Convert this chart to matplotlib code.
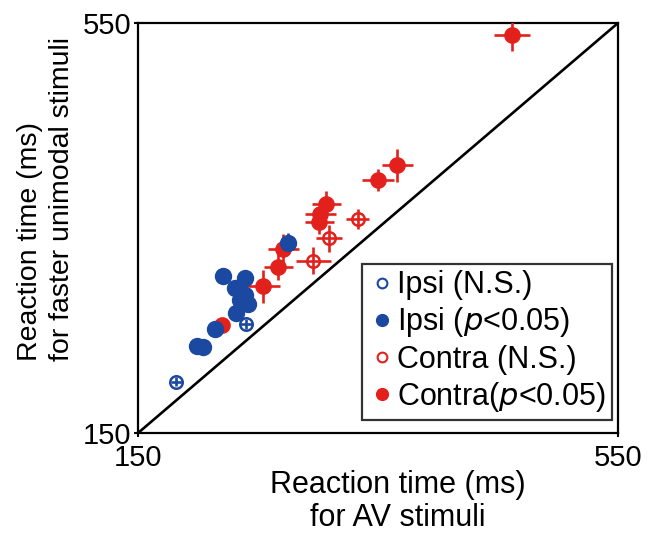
import matplotlib
matplotlib.use("Agg")
import matplotlib.pyplot as plt
from matplotlib.lines import Line2D

plt.rcParams['font.family'] = ['Liberation Sans', 'DejaVu Sans']

BLUE = '#1b48a0'
RED = '#e3211c'

# Ipsi, not significant
ipsi_ns_x = [182, 240]
ipsi_ns_y = [200, 256]
ipsi_ns_ex = [4.5, 5]
ipsi_ns_ey = [4.5, 5]

# Ipsi, p<0.05
ipsi_sig_x = [221, 239, 231, 239, 235, 242, 232, 214, 199, 204, 275]
ipsi_sig_y = [303, 301, 291, 285, 280, 276, 267, 251, 235, 234, 335]
ipsi_sig_ex = [4, 4, 4, 4, 4, 4, 4, 4, 4, 4, 5]
ipsi_sig_ey = [4, 4, 4, 4, 4, 4, 4, 4, 4, 4, 10]

# Contra, not significant
contra_ns_x = [296, 309, 333]
contra_ns_y = [318, 340, 359]
contra_ns_ex = [14.5, 10.7, 9.7]
contra_ns_ey = [13, 13, 10]

# Contra, p<0.05
contra_sig_x = [220, 254, 267, 271, 301, 302, 307, 350, 366, 462]
contra_sig_y = [255, 293, 312, 330, 356, 364, 373, 397, 411, 538]
contra_sig_ex = [4, 14, 12, 13, 12, 13, 12, 13, 13, 15]
contra_sig_ey = [4, 16, 13, 14, 12, 12, 13, 11, 16, 15]

W, H = 656, 541
fig = plt.figure(figsize=(W / 100, H / 100), dpi=100)
ax = fig.add_axes([0.2104, 0.1996, 0.7317, 0.7579])

lim = [150, 550]
ax.plot(lim, lim, color='black', lw=1.9, zorder=1)

ebkw = dict(fmt='o', capsize=0, elinewidth=1.9, zorder=3)
ax.errorbar(contra_sig_x, contra_sig_y, xerr=contra_sig_ex, yerr=contra_sig_ey,
            color=RED, ms=11, mec=RED, mfc=RED, **ebkw)
ax.errorbar(contra_ns_x, contra_ns_y, xerr=contra_ns_ex, yerr=contra_ns_ey,
            color=RED, ms=9, mec=RED, mfc='none', mew=1.8, **ebkw)
ax.errorbar(ipsi_sig_x, ipsi_sig_y, xerr=ipsi_sig_ex, yerr=ipsi_sig_ey,
            color=BLUE, ms=11.5, mec=BLUE, mfc=BLUE, **ebkw)
ax.errorbar(ipsi_ns_x, ipsi_ns_y, xerr=ipsi_ns_ex, yerr=ipsi_ns_ey,
            color=BLUE, ms=9, mec=BLUE, mfc='none', mew=1.8, **ebkw)

ax.set_xlim(lim)
ax.set_ylim(lim)
ax.set_xticks(lim)
ax.set_yticks(lim)
ax.set_xticklabels(['150', '550'])
ax.set_yticklabels(['150', '550'])
ax.tick_params(labelsize=21, length=3, width=1.5, direction='out')
ax.tick_params(axis='x', pad=5)
ax.tick_params(axis='y', pad=2)
for s in ax.spines.values():
    s.set_linewidth(1.6)

# axis titles placed as in the reference
fig.text(398 / W, 1 - 470 / H, 'Reaction time (ms)\nfor AV stimuli',
         fontsize=22, ha='center', va='top', linespacing=1.15,
         multialignment='center')
fig.text(46 / W, 1 - 361 / H, 'Reaction time (ms)\nfor faster unimodal stimuli',
         fontsize=20.5, rotation=90, ha='center', va='bottom',
         linespacing=1.3, multialignment='left')

handles = [
    Line2D([], [], ls='none', marker='o', ms=7, mfc='white', mec=BLUE, mew=1.5),
    Line2D([], [], ls='none', marker='o', ms=8.5, mfc=BLUE, mec=BLUE),
    Line2D([], [], ls='none', marker='o', ms=7, mfc='white', mec=RED, mew=1.5),
    Line2D([], [], ls='none', marker='o', ms=8.5, mfc=RED, mec=RED),
]
labels = ['Ipsi (N.S.)', 'Ipsi ($p$<0.05)', 'Contra (N.S.)', 'Contra($p$<0.05)']
leg = ax.legend(handles, labels, loc='lower right', fontsize=22, frameon=True,
                fancybox=False, edgecolor='black', handlelength=0.9,
                handletextpad=0.05, labelspacing=0.17, borderpad=0.2,
                borderaxespad=0.0, bbox_to_anchor=(0.9875, 0.032))
leg.get_frame().set_linewidth(1.6)

fig.savefig('out.png', dpi=100)
